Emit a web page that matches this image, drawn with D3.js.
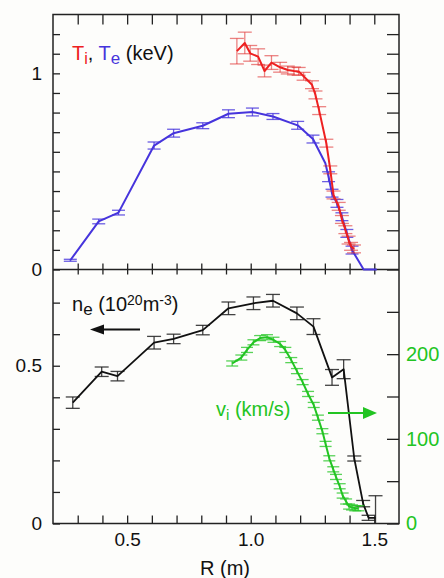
<!DOCTYPE html>
<html lang="en">

<head>
    <meta charset="UTF-8">
    <title>profiles</title>
    <style>
        body {
            margin: 0;
            background: #fdfdfb;
        }

        text {
            font-family: "Liberation Sans", Arial, Helvetica, sans-serif;
        }
    </style>
</head>

<body>

    <!-- Load d3.js -->
    <script src="https://d3js.org/d3.v7.min.js"></script>

    <div id="my_dataviz"></div>
    <script>
        // Te (blue) : R, value, error bar
        var teR = [0.27, 0.385, 0.465, 0.609, 0.688, 0.806, 0.910, 1.007, 1.090, 1.190, 1.252, 1.302, 1.315, 1.329, 1.349, 1.369, 1.389, 1.410, 1.457, 1.510];
        var teVal = [0.047, 0.245, 0.290, 0.632, 0.695, 0.733, 0.794, 0.803, 0.780, 0.735, 0.665, 0.542, 0.473, 0.389, 0.337, 0.269, 0.184, 0.099, 0.0, 0.0];
        var teErr = [0.005, 0.012, 0.012, 0.018, 0.02, 0.015, 0.02, 0.02, 0.015, 0.02, 0.02, 0, 0.025, 0.02, 0.02, 0.02, 0.02, 0.02, 0, 0];

        // Ti (red)
        var tiR = [0.944, 0.976, 0.998, 1.030, 1.056, 1.084, 1.119, 1.150, 1.175, 1.194, 1.214, 1.248, 1.262, 1.277, 1.306, 1.322, 1.335, 1.356, 1.369, 1.383, 1.396, 1.406, 1.418];
        var tiVal = [1.113, 1.155, 1.102, 1.085, 1.012, 1.055, 1.031, 1.017, 1.012, 1.010, 0.985, 0.942, 0.89, 0.81, 0.644, 0.508, 0.38, 0.322, 0.255, 0.203, 0.150, 0.118, 0.105];
        var tiErr = [0.065, 0.055, 0.04, 0.04, 0.03, 0.035, 0.025, 0.02, 0.02, 0.02, 0.02, 0.02, 0.02, 0.02, 0.02, 0.02, 0.02, 0.02, 0.02, 0.02, 0.02, 0.02, 0.02];

        // ne (black)
        var neR = [0.280, 0.397, 0.461, 0.609, 0.688, 0.806, 0.910, 1.011, 1.090, 1.187, 1.254, 1.329, 1.376, 1.419, 1.455, 1.477, 1.505];
        var neVal = [0.383, 0.481, 0.467, 0.573, 0.585, 0.613, 0.682, 0.698, 0.706, 0.666, 0.624, 0.463, 0.489, 0.206, 0.063, 0.018, 0.018];
        var neErr = [0.018, 0.015, 0.015, 0.02, 0.015, 0.015, 0.02, 0.02, 0.02, 0.02, 0.025, 0.025, 0.03, 0.008, 0.01, 0.008, 0.07];

        // vi (green, right axis, km/s)
        var viR = [0.925, 0.962, 0.985, 1.011, 1.038, 1.066, 1.092, 1.119, 1.140, 1.164, 1.187, 1.210, 1.232, 1.255, 1.272, 1.290, 1.303, 1.318, 1.334, 1.345, 1.360, 1.372, 1.386, 1.398, 1.410, 1.423, 1.436];
        var viVal = [189, 196, 205, 214, 219, 220, 217, 212, 205, 193, 180, 167, 153, 140, 125, 109, 94, 77, 64, 55, 44, 33, 26, 20, 19, 18, 18];
        var viErr = [3, 3, 3, 3, 3, 3, 3, 3, 3, 3, 3, 3, 3, 3, 3, 3, 3, 3, 3, 3, 3, 3, 3, 3, 3, 3, 3];

        // ticks
        var xTicks = [0.3, 0.4, 0.5, 0.6, 0.7, 0.8, 0.9, 1.0, 1.1, 1.2, 1.3, 1.4, 1.5];
        var xLabels = [0.5, 1.0, 1.5];
        var tTicks = [0, 0.1, 0.2, 0.3, 0.4, 0.5, 0.6, 0.7, 0.8, 0.9, 1.0, 1.1, 1.2];
        var tLabels = [0, 1];
        var nTicks = [0, 0.1, 0.2, 0.3, 0.4, 0.5, 0.6, 0.7];
        var nLabels = [0, 0.5];
        var vTicks = [0, 50, 100, 150, 200, 250];
        var vLabels = [0, 100, 200];

        var red = "#ee2020", blue = "#4634dc", green = "#22c422";

        var width = 444, height = 578;
        var pLeft = 53, pRight = 399, pTop = 14.5, pMid = 269.5, pBottom = 523.5;

        var svg = d3.select("#my_dataviz")
            .append("svg")
            .attr("width", width)
            .attr("height", height);

        // scales
        var x = d3.scaleLinear().domain([0.2, 1.6]).range([pLeft, pRight]);
        var yT = d3.scaleLinear().domain([0, 1.3]).range([pMid, pTop]);
        var yN = d3.scaleLinear().domain([0, 0.805]).range([pBottom, pMid]);
        var yV = d3.scaleLinear().domain([0, 300]).range([pBottom, pMid]);

        function fmtOnly(list, f) {
            return function (d) {
                return list.indexOf(d) >= 0 ? (f ? f(d) : d) : "";
            };
        }

        function styleAxis(g) {
            g.select(".domain").remove();
            g.selectAll(".tick line").attr("stroke", "#222").attr("stroke-width", 1.3);
            g.selectAll("text").attr("font-size", 19).attr("fill", "#111");
        }

        // top panel axes
        svg.append("g").attr("transform", "translate(" + pLeft + ",0)")
            .call(d3.axisLeft(yT).tickValues(tTicks).tickSize(-7).tickPadding(11).tickFormat(fmtOnly(tLabels)))
            .call(styleAxis);
        svg.append("g").attr("transform", "translate(" + pRight + ",0)")
            .call(d3.axisRight(yT).tickValues(tTicks).tickSize(-12).tickFormat(""))
            .call(styleAxis);
        svg.append("g").attr("transform", "translate(0," + pTop + ")")
            .call(d3.axisTop(x).tickValues(xTicks).tickSize(-10).tickFormat(""))
            .call(styleAxis);
        svg.append("g").attr("transform", "translate(0," + pMid + ")")
            .call(d3.axisBottom(x).tickValues(xTicks).tickSize(-6).tickFormat(""))
            .call(styleAxis);

        // bottom panel axes
        svg.append("g").attr("transform", "translate(0," + pMid + ")")
            .call(d3.axisTop(x).tickValues(xTicks).tickSize(-5).tickFormat(""))
            .call(styleAxis);
        svg.append("g").attr("transform", "translate(0," + pBottom + ")")
            .call(d3.axisBottom(x).tickValues(xTicks).tickSize(-8).tickPadding(9).tickFormat(fmtOnly(xLabels, d3.format(".1f"))))
            .call(styleAxis);
        svg.append("g").attr("transform", "translate(" + pLeft + ",0)")
            .call(d3.axisLeft(yN).tickValues(nTicks).tickSize(-7).tickPadding(11).tickFormat(fmtOnly(nLabels)))
            .call(styleAxis);
        svg.append("g").attr("transform", "translate(" + pRight + ",0)")
            .call(d3.axisRight(yV).tickValues(vTicks).tickSize(-12).tickPadding(7).tickFormat(fmtOnly(vLabels)))
            .call(styleAxis)
            .selectAll("text").attr("fill", green).attr("font-size", 20);

        // frames
        svg.append("rect")
            .attr("x", pLeft).attr("y", pTop)
            .attr("width", pRight - pLeft).attr("height", pBottom - pTop)
            .attr("fill", "none").attr("stroke", "#222").attr("stroke-width", 1.5);
        svg.append("line")
            .attr("x1", pLeft).attr("x2", pRight).attr("y1", pMid).attr("y2", pMid)
            .attr("stroke", "#222").attr("stroke-width", 1.5);

        // series drawing
        function drawSeries(rs, vals, errs, yScale, color, lineW, errColor, errOpacity, capW) {
            var data = rs.map(function (r, i) { return { r: r, v: vals[i], e: errs[i] }; });
            var lo = yScale.domain()[0], hi = yScale.domain()[1];
            var eb = svg.append("g")
                .attr("stroke", errColor)
                .attr("stroke-opacity", errOpacity)
                .attr("stroke-width", 1.3);
            data.filter(function (d) { return d.e > 0; }).forEach(function (d) {
                var a = Math.max(lo, d.v - d.e), b = Math.min(hi, d.v + d.e);
                eb.append("line")
                    .attr("x1", x(d.r)).attr("x2", x(d.r))
                    .attr("y1", yScale(a)).attr("y2", yScale(b));
                [d.v - d.e, d.v + d.e].forEach(function (c) {
                    if (c < lo || c > hi) return;
                    eb.append("line")
                        .attr("x1", x(d.r) - capW).attr("x2", x(d.r) + capW)
                        .attr("y1", yScale(c)).attr("y2", yScale(c));
                });
            });
            svg.append("path")
                .datum(data)
                .attr("fill", "none")
                .attr("stroke", color)
                .attr("stroke-width", lineW)
                .attr("stroke-linejoin", "round")
                .attr("d", d3.line()
                    .x(function (d) { return x(d.r); })
                    .y(function (d) { return yScale(d.v); }));
        }

        drawSeries(teR, teVal, teErr, yT, blue, 2, blue, 0.8, 6.5);
        drawSeries(tiR, tiVal, tiErr, yT, red, 2, "#e03030", 0.6, 7);
        drawSeries(neR, neVal, neErr, yN, "#111", 1.8, "#222", 0.85, 7);
        drawSeries(viR, viVal, viErr, yV, green, 2, green, 0.75, 6);

        // legends
        var t1 = svg.append("text").attr("x", 72).attr("y", 60).attr("font-size", 20);
        t1.append("tspan").attr("fill", red).text("T");
        t1.append("tspan").attr("fill", red).attr("font-size", 16).attr("dy", 4).text("i");
        t1.append("tspan").attr("fill", "#111").attr("dy", -4).text(", ");
        t1.append("tspan").attr("fill", blue).text("T");
        t1.append("tspan").attr("fill", blue).attr("font-size", 17).attr("dy", 4).text("e");
        t1.append("tspan").attr("fill", "#111").attr("dy", -4).text(" (keV)");

        var t2 = svg.append("text").attr("x", 72).attr("y", 311).attr("font-size", 20).attr("fill", "#111");
        t2.append("tspan").text("n");
        t2.append("tspan").attr("font-size", 17).attr("dy", 4).text("e");
        t2.append("tspan").attr("dy", -4).text(" (10");
        t2.append("tspan").attr("font-size", 14).attr("dy", -6).text("20");
        t2.append("tspan").attr("dy", 6).text("m");
        t2.append("tspan").attr("font-size", 14).attr("dy", -6).text("-3");
        t2.append("tspan").attr("dy", 6).text(")");

        var t3 = svg.append("text").attr("x", 216).attr("y", 416).attr("font-size", 20).attr("fill", green);
        t3.append("tspan").text("v");
        t3.append("tspan").attr("font-size", 15).attr("dy", 4).text("i");
        t3.append("tspan").attr("dy", -4).text(" (km/s)");

        // arrows
        svg.append("line").attr("x1", 140).attr("x2", 100).attr("y1", 329.5).attr("y2", 329.5)
            .attr("stroke", "#111").attr("stroke-width", 2);
        svg.append("path").attr("d", "M90,329.5 L104,324.5 L104,334.5 Z").attr("fill", "#111");
        svg.append("line").attr("x1", 328).attr("x2", 366).attr("y1", 413).attr("y2", 413)
            .attr("stroke", green).attr("stroke-width", 2);
        svg.append("path").attr("d", "M377,413 L363,407 L363,419 Z").attr("fill", green);

        // x label
        svg.append("text")
            .attr("x", 225).attr("y", 575)
            .attr("text-anchor", "middle")
            .attr("font-size", 20)
            .attr("fill", "#111")
            .text("R (m)");
    </script>
</body>

</html>
